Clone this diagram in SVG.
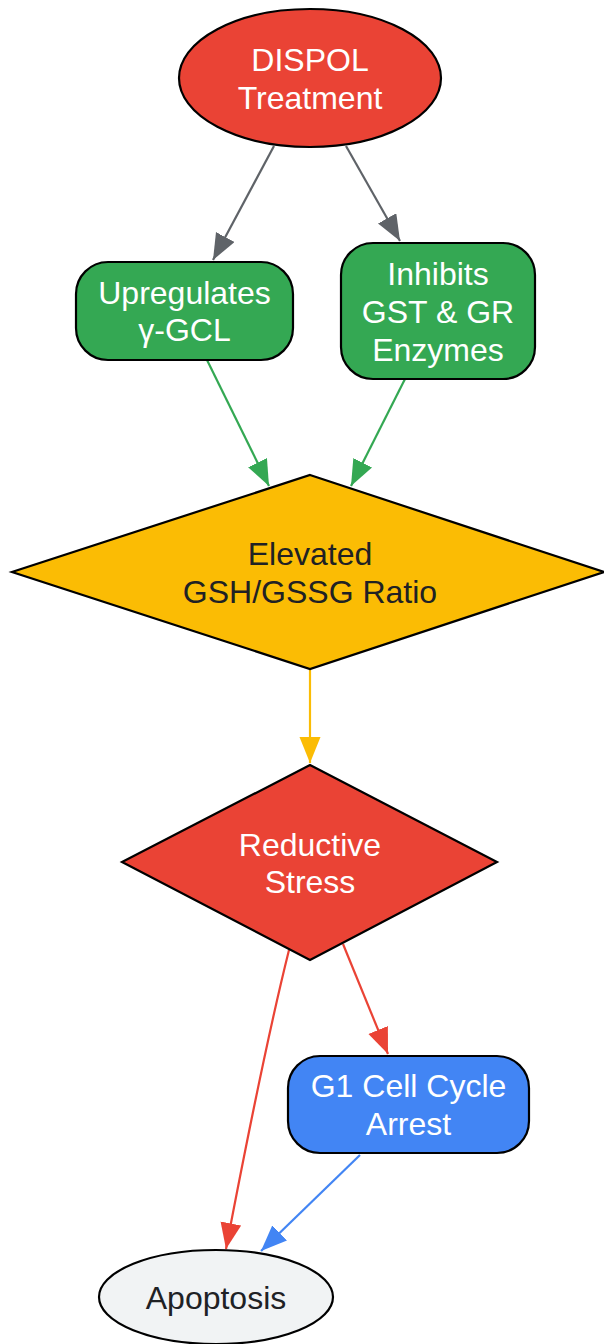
<svg xmlns="http://www.w3.org/2000/svg" width="604" height="1344" viewBox="0 0 604 1344">
<style>
.n{stroke:#000;stroke-width:2.2}
.t{font-family:"Liberation Sans",Arial,sans-serif;font-size:32px;text-anchor:middle}
.w{fill:#fff}
.d{fill:#202124}
.e{fill:none;stroke-width:2.2}
</style>
<defs>
<marker id="aG" markerUnits="userSpaceOnUse" markerWidth="27" markerHeight="23" refX="26" refY="10.5" orient="auto"><path d="M0,0 L26,10.5 L0,21 z" fill="#5f6368"/></marker>
<marker id="aGr" markerUnits="userSpaceOnUse" markerWidth="27" markerHeight="23" refX="26" refY="10.5" orient="auto"><path d="M0,0 L26,10.5 L0,21 z" fill="#34a853"/></marker>
<marker id="aY" markerUnits="userSpaceOnUse" markerWidth="27" markerHeight="23" refX="26" refY="10.5" orient="auto"><path d="M0,0 L26,10.5 L0,21 z" fill="#fbbc04"/></marker>
<marker id="aR" markerUnits="userSpaceOnUse" markerWidth="27" markerHeight="23" refX="26" refY="10.5" orient="auto"><path d="M0,0 L26,10.5 L0,21 z" fill="#ea4335"/></marker>
<marker id="aB" markerUnits="userSpaceOnUse" markerWidth="27" markerHeight="23" refX="26" refY="10.5" orient="auto"><path d="M0,0 L26,10.5 L0,21 z" fill="#4285f4"/></marker>
</defs>
<rect width="604" height="1344" fill="#fff"/>
<g id="edges">
<path class="e" stroke="#5f6368" d="M274,146 L213,260" marker-end="url(#aG)"/>
<path class="e" stroke="#5f6368" d="M346,146 L400,241" marker-end="url(#aG)"/>
<path class="e" stroke="#34a853" d="M207,360 L269,486" marker-end="url(#aGr)"/>
<path class="e" stroke="#34a853" d="M405,379 L351,486" marker-end="url(#aGr)"/>
<path class="e" stroke="#fbbc04" d="M310,669 L310,763" marker-end="url(#aY)"/>
<path class="e" stroke="#ea4335" d="M289,950 Q264,1050 226,1249" marker-end="url(#aR)"/>
<path class="e" stroke="#ea4335" d="M343,944 L388,1054" marker-end="url(#aR)"/>
<path class="e" stroke="#4285f4" d="M360,1155 L261,1251" marker-end="url(#aB)"/>
</g>
<g id="dispol">
<ellipse class="n" cx="310" cy="78" rx="131" ry="69" fill="#ea4335"/>
<text class="t w" x="310" y="71">DISPOL</text>
<text class="t w" x="310" y="109">Treatment</text>
</g>
<g id="upregulates">
<rect class="n" x="76" y="262" width="217" height="98" rx="32" fill="#34a853"/>
<text class="t w" x="184.5" y="304">Upregulates</text>
<text class="t w" x="184.5" y="341">γ-GCL</text>
</g>
<g id="inhibits">
<rect class="n" x="341" y="243" width="194" height="136" rx="32" fill="#34a853"/>
<text class="t w" x="438" y="285">Inhibits</text>
<text class="t w" x="438" y="323">GST &amp; GR</text>
<text class="t w" x="438" y="361">Enzymes</text>
</g>
<g id="elevated">
<polygon class="n" points="310,475 604,572 310,669 12,572" fill="#fbbc04"/>
<text class="t d" x="310" y="565">Elevated</text>
<text class="t d" x="310" y="603">GSH/GSSG Ratio</text>
</g>
<g id="reductive">
<polygon class="n" points="310,765 497,862 310,960 122,862" fill="#ea4335"/>
<text class="t w" x="310" y="856">Reductive</text>
<text class="t w" x="310" y="893">Stress</text>
</g>
<g id="g1">
<rect class="n" x="288" y="1056" width="241" height="97" rx="32" fill="#4285f4"/>
<text class="t w" x="408.5" y="1097">G1 Cell Cycle</text>
<text class="t w" x="408.5" y="1135">Arrest</text>
</g>
<g id="apoptosis">
<ellipse class="n" cx="216" cy="1297" rx="117" ry="47" fill="#f1f3f4"/>
<text class="t d" x="216" y="1309">Apoptosis</text>
</g>
</svg>
